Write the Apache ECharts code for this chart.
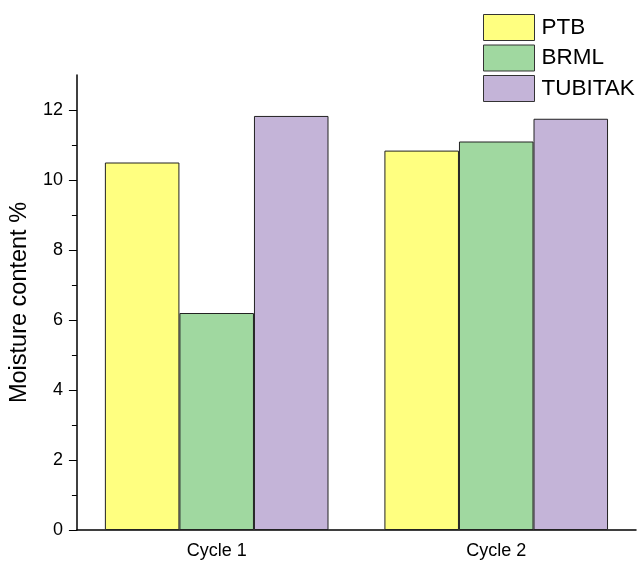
<!DOCTYPE html>
<html><head><meta charset="utf-8">
<script src="https://cdn.jsdelivr.net/npm/echarts@6/dist/echarts.min.js"></script>
<style>html,body{margin:0;padding:0;background:#fff}#c{width:640px;height:563px}</style>
</head><body><div id="c"></div>
<script>
const categories = ['Cycle 1', 'Cycle 2'];
const ptb = [10.5, 10.84];
const brml = [6.2, 11.1];
const tubitak = [11.83, 11.75];
const seriesNames = ['PTB', 'BRML', 'TUBITAK'];
const majorTicks = [0, 2, 4, 6, 8, 10, 12];
const minorTicks = [1, 3, 5, 7, 9, 11];
const colors = ['#FFFF80', '#A0D8A0', '#C4B4D8'];

const chart = echarts.init(document.getElementById('c'));
const font = 'Arial, "Liberation Sans", sans-serif';
const mk = (name, data, i) => ({
  name, type: 'bar', data, yAxisIndex: 0,
  barGap: '0%', barCategoryGap: '20%',
  itemStyle: { color: colors[i], borderColor: '#222', borderWidth: 1 }
});
chart.setOption({
  animation: false,
  grid: { left: 76, right: 4, top: 75, bottom: 33 },
  legend: {
    orient: 'vertical', left: 478, top: 9, itemWidth: 51, itemHeight: 26, itemGap: 3.5,
    icon: 'rect',
    textStyle: { fontFamily: font, fontSize: 22.5, color: '#000', padding: [0, 0, 0, 2] },
    itemStyle: { borderColor: '#333', borderWidth: 1 },
    data: seriesNames
  },
  xAxis: {
    type: 'category', data: categories,
    axisLine: { lineStyle: { color: '#000', width: 1.5 } },
    axisTick: { alignWithLabel: true, length: 5, lineStyle: { color: '#000' } },
    axisLabel: { fontFamily: font, fontSize: 18, color: '#000', margin: 12 }
  },
  yAxis: [{
    type: 'value', min: 0, max: 13, position: 'left',
    name: 'Moisture content %', nameLocation: 'middle', nameGap: 39,
    nameTextStyle: { fontFamily: font, fontSize: 23.5, color: '#000' },
    splitLine: { show: false },
    axisLine: { show: true, lineStyle: { color: '#000', width: 1.5 } },
    axisTick: { show: true, length: 8, customValues: majorTicks, lineStyle: { color: '#000' } },
    axisLabel: { fontFamily: font, fontSize: 18, color: '#000', margin: 14, customValues: majorTicks }
  }, {
    type: 'value', min: 0, max: 13, position: 'left',
    splitLine: { show: false },
    axisLine: { show: false },
    axisTick: { show: true, length: 5, customValues: minorTicks, lineStyle: { color: '#000' } },
    axisLabel: { show: false }
  }],
  series: [mk(seriesNames[0], ptb, 0), mk(seriesNames[1], brml, 1), mk(seriesNames[2], tubitak, 2)]
});
</script></body></html>
